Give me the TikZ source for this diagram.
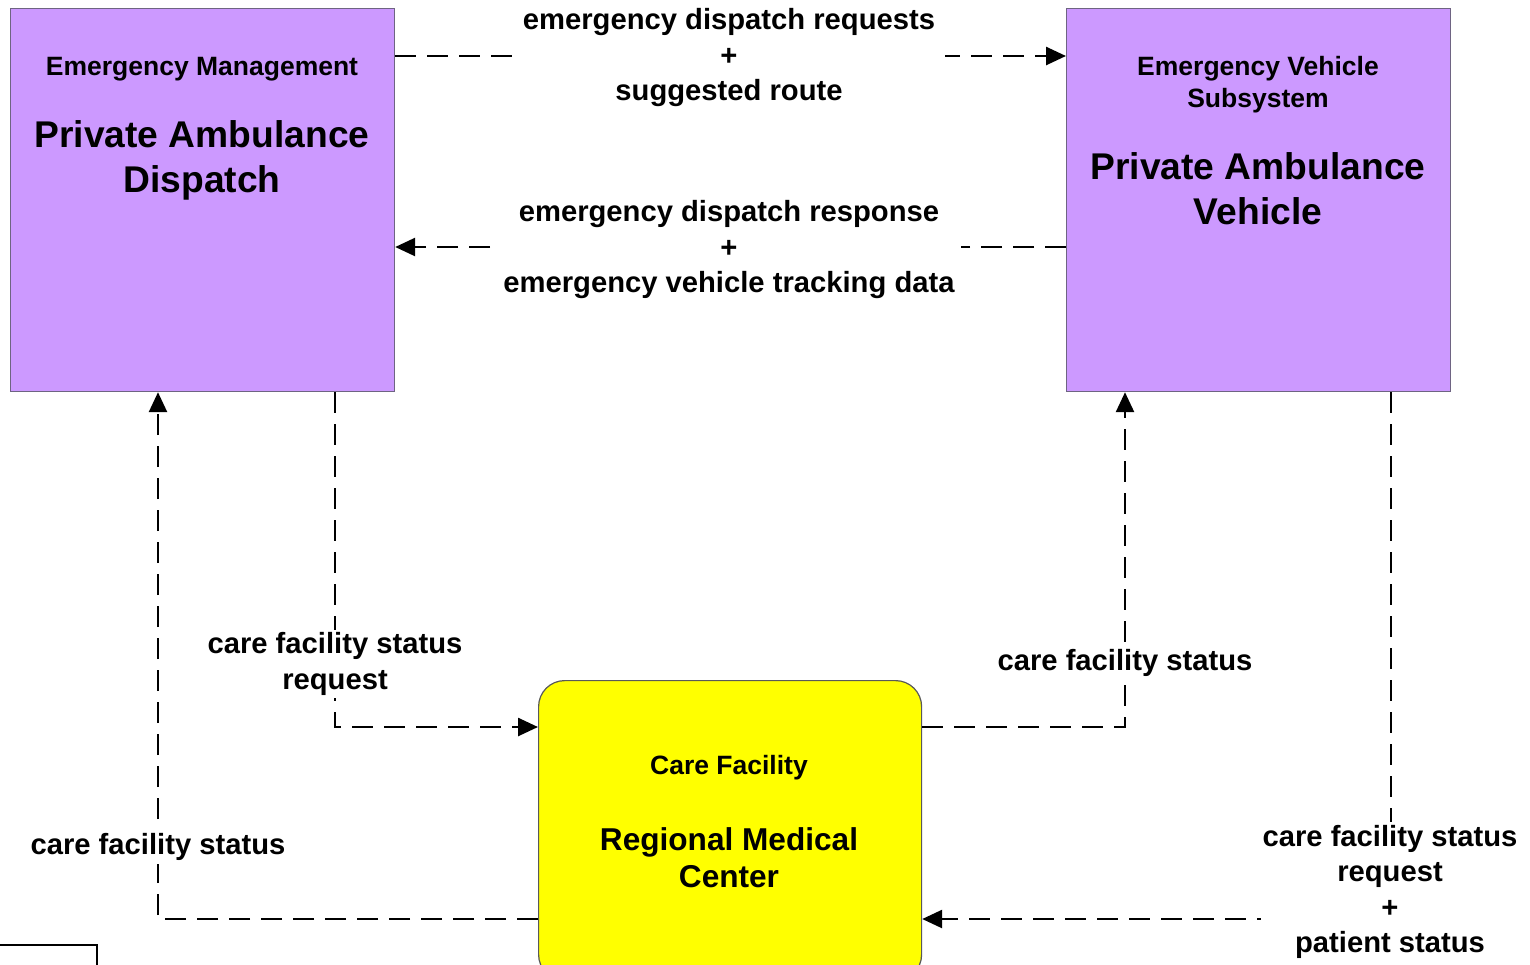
\documentclass[tikz,border=0pt]{standalone}
\usepackage{fontspec}
\setmainfont{Liberation Sans}
\usetikzlibrary{arrows.meta}
\definecolor{purp}{RGB}{204,153,255}
\definecolor{purpline}{RGB}{110,100,130}
\definecolor{cfyellow}{RGB}{255,255,0}
\begin{document}
\begin{tikzpicture}[x=1pt,y=-1pt,
  box/.style={draw=purpline, line width=1.2pt, fill=purp, anchor=north west, inner sep=0pt},
  cfbox/.style={draw=black!65, line width=1.2pt, fill=cfyellow, anchor=north west, inner sep=0pt, rounded corners=26pt},
  flow/.style={line width=2.6pt, dash pattern=on 21pt off 11pt, -{Triangle[length=20pt,width=18pt]}},
  lbl/.style={fill=white, align=center, inner xsep=10pt, inner ysep=3pt, font=\bfseries\fontsize{29.2}{35.5}\selectfont},
  small/.style={anchor=base, inner sep=0pt, font=\bfseries\fontsize{26.5}{32}\selectfont},
  big/.style={anchor=base, inner sep=0pt, font=\bfseries\fontsize{37.2}{44}\selectfont},
  mid/.style={anchor=base, inner sep=0pt, font=\bfseries\fontsize{31.6}{38}\selectfont}]
\useasboundingbox (0,0) rectangle (1530,964);
\clip (0,0) rectangle (1530,964);
\fill[white] (0,0) rectangle (1530,964);

% boxes
\node[box, minimum width=384pt, minimum height=383pt] (ems) at (10,8) {};
\node[box, minimum width=384pt, minimum height=383pt] (veh) at (1066,8) {};
\node[cfbox, minimum width=383pt, minimum height=300pt] (cf) at (538,680) {};

% partial box bottom-left
\draw[line width=2pt] (-10,1000) -- (-10,945) coordinate (pbl) -- (97,945) coordinate (pbr) -- (97,1000);

% box texts
\node[small] (emsA) at (202,75) {Emergency Management};
\node[big] (emsB) at (202,147) {Private Ambulance};
\node[big] (emsC) at (202,192) {Dispatch};
\node[small] (vehA) at (1258,75) {Emergency Vehicle};
\node[small] (vehB) at (1258,107) {Subsystem};
\node[big] (vehC) at (1258,179) {Private Ambulance};
\node[big] (vehD) at (1258,224) {Vehicle};
\node[small] (cfA) at (729,774) {Care Facility};
\node[mid] (cfB) at (729,850) {Regional Medical};
\node[mid] (cfC) at (729,887) {Center};

% connectors
\draw[flow] ([yshift=-48pt]ems.north east) -- ([yshift=-48pt]veh.north west);
\draw[flow] ([yshift=-239pt]veh.north west) -- ([yshift=-239pt]ems.north east);
\draw[flow] ([xshift=325pt]ems.south west) |- ([yshift=-47pt]cf.north west);
\draw[flow] ([yshift=-239pt]cf.north west) -| ([xshift=148pt]ems.south west);
\draw[flow] ([yshift=-47pt]cf.north east) -| ([xshift=59pt]veh.south west);
\draw[flow] ([xshift=325pt]veh.south west) |- ([yshift=-239pt]cf.north east);

% labels
\node[lbl] (l1) at (729,58) {emergency dispatch requests\\+\\suggested route};
\node[lbl, inner xsep=6pt] (l2) at (729,250) {emergency dispatch response\\+\\emergency vehicle tracking data};
\node[lbl, inner xsep=2pt] (l3) at (335,664) {care facility status\\request};
\node[lbl, inner xsep=2pt] (l4) at (158,847) {care facility status};
\node[lbl, inner xsep=2pt] (l5) at (1125,663) {care facility status};
\node[lbl, inner xsep=2pt] (l6) at (1390,892) {care facility status\\request\\+\\patient status};
\end{tikzpicture}
\end{document}
